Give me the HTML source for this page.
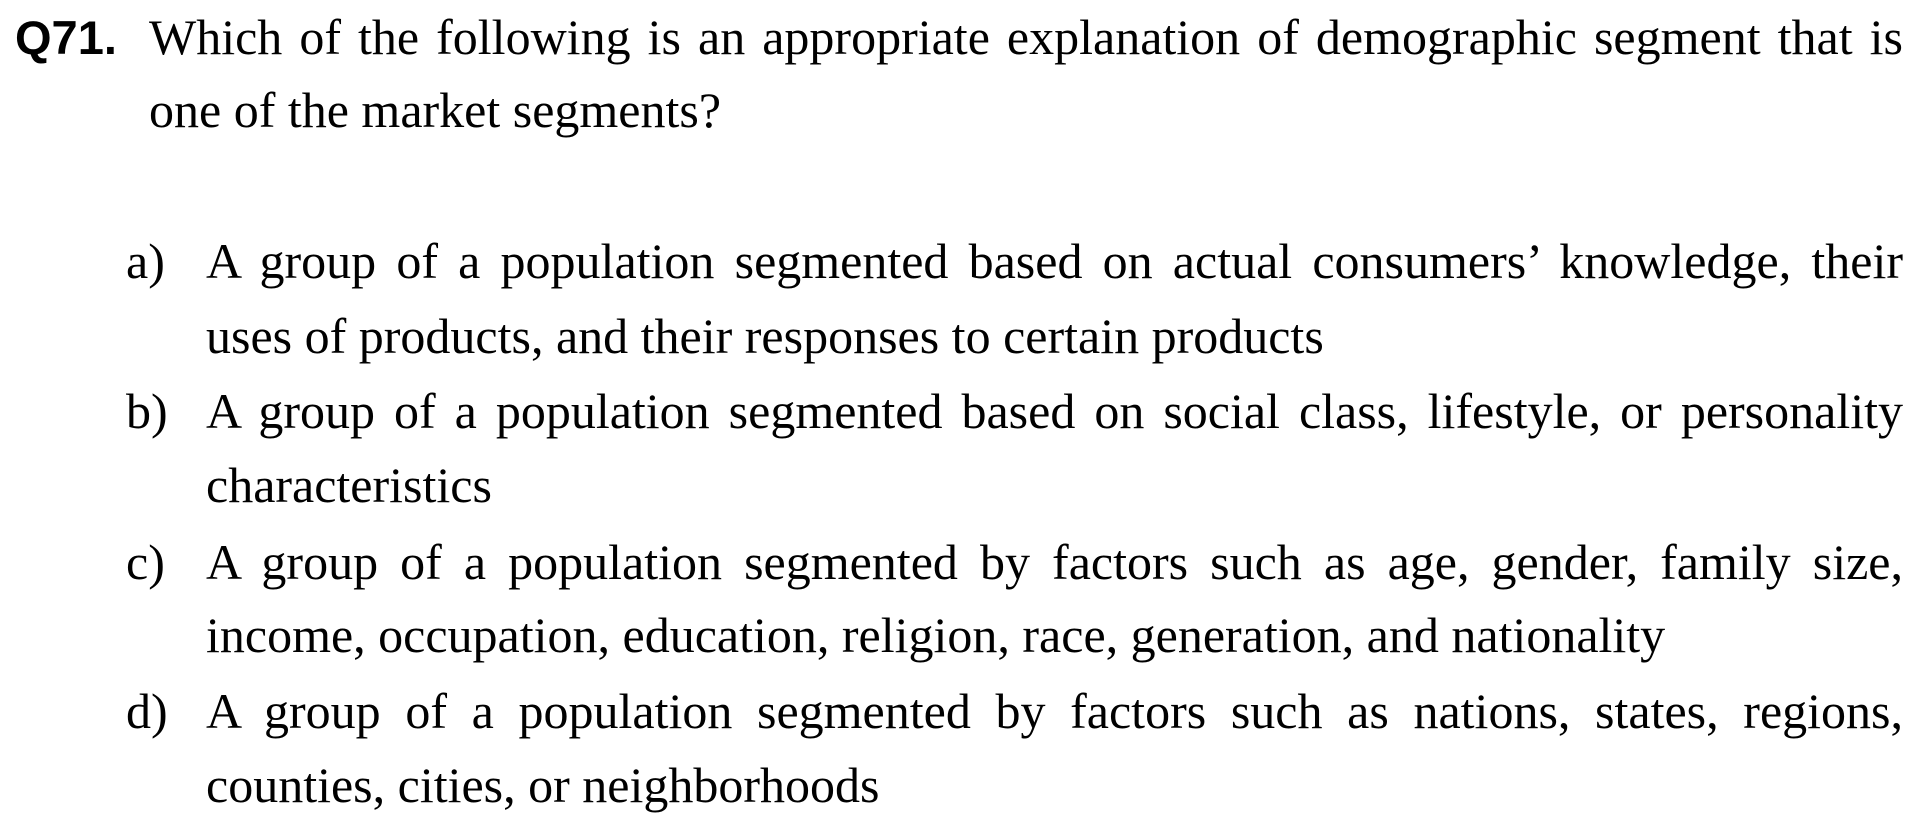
<!DOCTYPE html>
<html><head><meta charset="utf-8">
<style>
html,body{margin:0;padding:0;background:#fff;}
body{width:1919px;height:830px;position:relative;overflow:hidden;font-family:"Liberation Serif",serif;color:#000;}
.l{position:absolute;font-size:50px;line-height:50px;white-space:nowrap;}
.j{text-align:justify;text-align-last:justify;white-space:normal;}
.q{font-family:"Liberation Sans",sans-serif;font-weight:bold;font-size:47px;line-height:47px;}
</style></head><body>
<div class="l q" style="left:15px;top:14px;">Q71.</div>
<div class="l j" style="left:149px;top:12px;width:1754px;">Which of the following is an appropriate explanation of demographic segment that is</div>
<div class="l" style="left:149px;top:85px;">one of the market segments?</div>

<div class="l" style="left:126px;top:236px;">a)</div>
<div class="l j" style="left:206px;top:236px;width:1697px;">A group of a population segmented based on actual consumers’ knowledge, their</div>
<div class="l" style="left:206px;top:311px;">uses of products, and their responses to certain products</div>

<div class="l" style="left:126px;top:386px;">b)</div>
<div class="l j" style="left:206px;top:386px;width:1697px;">A group of a population segmented based on social class, lifestyle, or personality</div>
<div class="l" style="left:206px;top:460px;">characteristics</div>

<div class="l" style="left:126px;top:537px;">c)</div>
<div class="l j" style="left:206px;top:537px;width:1697px;">A group of a population segmented by factors such as age, gender, family size,</div>
<div class="l" style="left:206px;top:610px;">income, occupation, education, religion, race, generation, and nationality</div>

<div class="l" style="left:126px;top:686px;">d)</div>
<div class="l j" style="left:206px;top:686px;width:1697px;">A group of a population segmented by factors such as nations, states, regions,</div>
<div class="l" style="left:206px;top:760px;">counties, cities, or neighborhoods</div>
</body></html>
